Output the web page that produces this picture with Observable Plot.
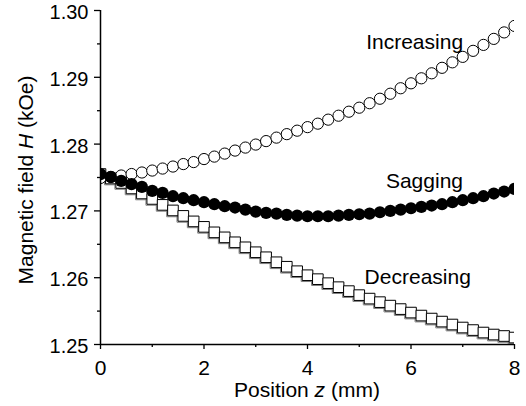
<!DOCTYPE html>
<html><head><meta charset="utf-8">
<script src="https://cdn.jsdelivr.net/npm/d3@7"></script>
<script src="https://cdn.jsdelivr.net/npm/@observablehq/plot@0.6"></script>
<style>
body{margin:0;background:#fff}
svg{font-family:"Liberation Sans",Arial,sans-serif}
</style>
</head><body><div id="chart"></div>
<script>
const positions = [0,0.2,0.4,0.6,0.8,1.0,1.2,1.4,1.6,1.8,2.0,2.2,2.4,2.6,2.8,3.0,3.2,3.4,3.6,3.8,4.0,4.2,4.4,4.6,4.8,5.0,5.2,5.4,5.6,5.8,6.0,6.2,6.4,6.6,6.8,7.0,7.2,7.4,7.6,7.8,8.0];
const increasing = [1.27493,1.27507,1.27530,1.27552,1.27575,1.27604,1.27634,1.27664,1.27701,1.27731,1.27776,1.27813,1.27858,1.27903,1.27948,1.27993,1.28045,1.28097,1.28149,1.28201,1.28254,1.28306,1.28366,1.28425,1.28485,1.28545,1.28612,1.28679,1.28754,1.28836,1.28910,1.28985,1.29060,1.29142,1.29224,1.29306,1.29396,1.29485,1.29575,1.29672,1.29769];
const sagging = [1.2755,1.2751,1.2745,1.2740,1.2736,1.2730,1.2727,1.2722,1.2719,1.2716,1.2713,1.2710,1.2707,1.2705,1.2702,1.2699,1.2697,1.2696,1.2694,1.2693,1.2692,1.2692,1.2692,1.2693,1.2694,1.2695,1.2696,1.2698,1.2700,1.2702,1.2704,1.2706,1.2708,1.2710,1.2713,1.2716,1.2719,1.2722,1.2726,1.2729,1.2733];
const decreasing = [1.27552,1.27485,1.27418,1.27336,1.27261,1.27179,1.27090,1.27007,1.26925,1.26843,1.26761,1.26679,1.26604,1.26530,1.26455,1.26381,1.26306,1.26231,1.26164,1.26097,1.26037,1.25978,1.25918,1.25858,1.25799,1.25739,1.25687,1.25634,1.25582,1.25530,1.25478,1.25433,1.25388,1.25343,1.25299,1.25254,1.25216,1.25179,1.25149,1.25127,1.25104];
const seriesNames = ["Increasing","Sagging","Decreasing"];
const labelZ = [6.07,6.26,6.13];
const labelH = [1.2953,1.2744,1.2601];
const yTicks = [1.25,1.26,1.27,1.28,1.29,1.30];
const yMinorTicks = [1.255,1.265,1.275,1.285,1.295];
const xTicks = [0,2,4,6,8];
const xMinorTicks = [1,3,5,7];

const incData = positions.map((z,i)=>({z, H: increasing[i]}));
const sagData = positions.map((z,i)=>({z, H: sagging[i]}));
const decData = positions.map((z,i)=>({z, H: decreasing[i]}));
const labels = seriesNames.map((t,i)=>({text:t, z:labelZ[i], H:labelH[i]}));

const FS = 21;
const chart = Plot.plot({
  width: 526, height: 406,
  marginLeft: 100, marginRight: 12, marginTop: 10, marginBottom: 62,
  x: {domain: [0, 8]},
  y: {domain: [1.25, 1.30]},
  style: {fontFamily: '"Liberation Sans", Arial, sans-serif', fontSize: FS + "px", color: "#000", background: "#fff"},
  marks: [
    Plot.dot(decData, {x: "z", y: "H", symbol: "square", r: 6.0, stroke: "#808080", strokeWidth: 1, fill: "none", dx: -1, dy: 1, clip: true}),
    Plot.dot(decData, {x: "z", y: "H", symbol: "square", r: 6.0, stroke: "#000", strokeWidth: 1, fill: "#fff", clip: true}),
    Plot.dot(incData, {x: "z", y: "H", r: 5.6, stroke: "#000", strokeWidth: 1, fill: "#fff", clip: true}),
    Plot.dot(sagData, {x: "z", y: "H", r: 6.1, fill: "#000", stroke: "none", clip: true}),
    Plot.text(labels, {x: "z", y: "H", text: "text", fontSize: FS, fill: "#000"}),
    Plot.axisY(yTicks, {tickSize: 6, tickFormat: () => "", label: null, strokeWidth: 1.3}),
    Plot.axisY(yTicks, {tickSize: 0, tickPadding: 12, tickFormat: d3.format(".2f"), label: null, fontSize: 20, dy: 2}),
    Plot.axisY(yMinorTicks, {tickSize: 3, tickFormat: () => "", label: null, strokeWidth: 1.3}),
    Plot.axisX(xTicks, {tickSize: 5, tickPadding: 11, tickFormat: d3.format("d"), label: null, fontSize: FS, strokeWidth: 1.3}),
    Plot.axisX(xMinorTicks, {tickSize: 3, tickFormat: () => "", label: null, strokeWidth: 1.3}),
    Plot.ruleX([0], {stroke: "#000", strokeWidth: 1.5}),
    Plot.ruleY([1.25], {stroke: "#000", strokeWidth: 1.5})
  ]
});
document.getElementById("chart").appendChild(chart);

const sx = chart.scale("x"), sy = chart.scale("y");
const svg = d3.select(chart);
const xl = svg.append("text")
  .attr("x", (sx.range[0] + sx.range[1]) / 2)
  .attr("y", 397)
  .attr("text-anchor", "middle")
  .attr("font-size", FS)
  .attr("fill", "#000");
xl.append("tspan").text("Position ");
xl.append("tspan").attr("font-style", "italic").text("z");
xl.append("tspan").text(" (mm)");

const yl = svg.append("text")
  .attr("transform", `translate(33,${(sy.range[0] + sy.range[1]) / 2 + 3}) rotate(-90)`)
  .attr("text-anchor", "middle")
  .attr("font-size", FS)
  .attr("fill", "#000");
yl.append("tspan").text("Magnetic field ");
yl.append("tspan").attr("font-style", "italic").text("H");
yl.append("tspan").text(" (kOe)");
</script>
</body></html>
